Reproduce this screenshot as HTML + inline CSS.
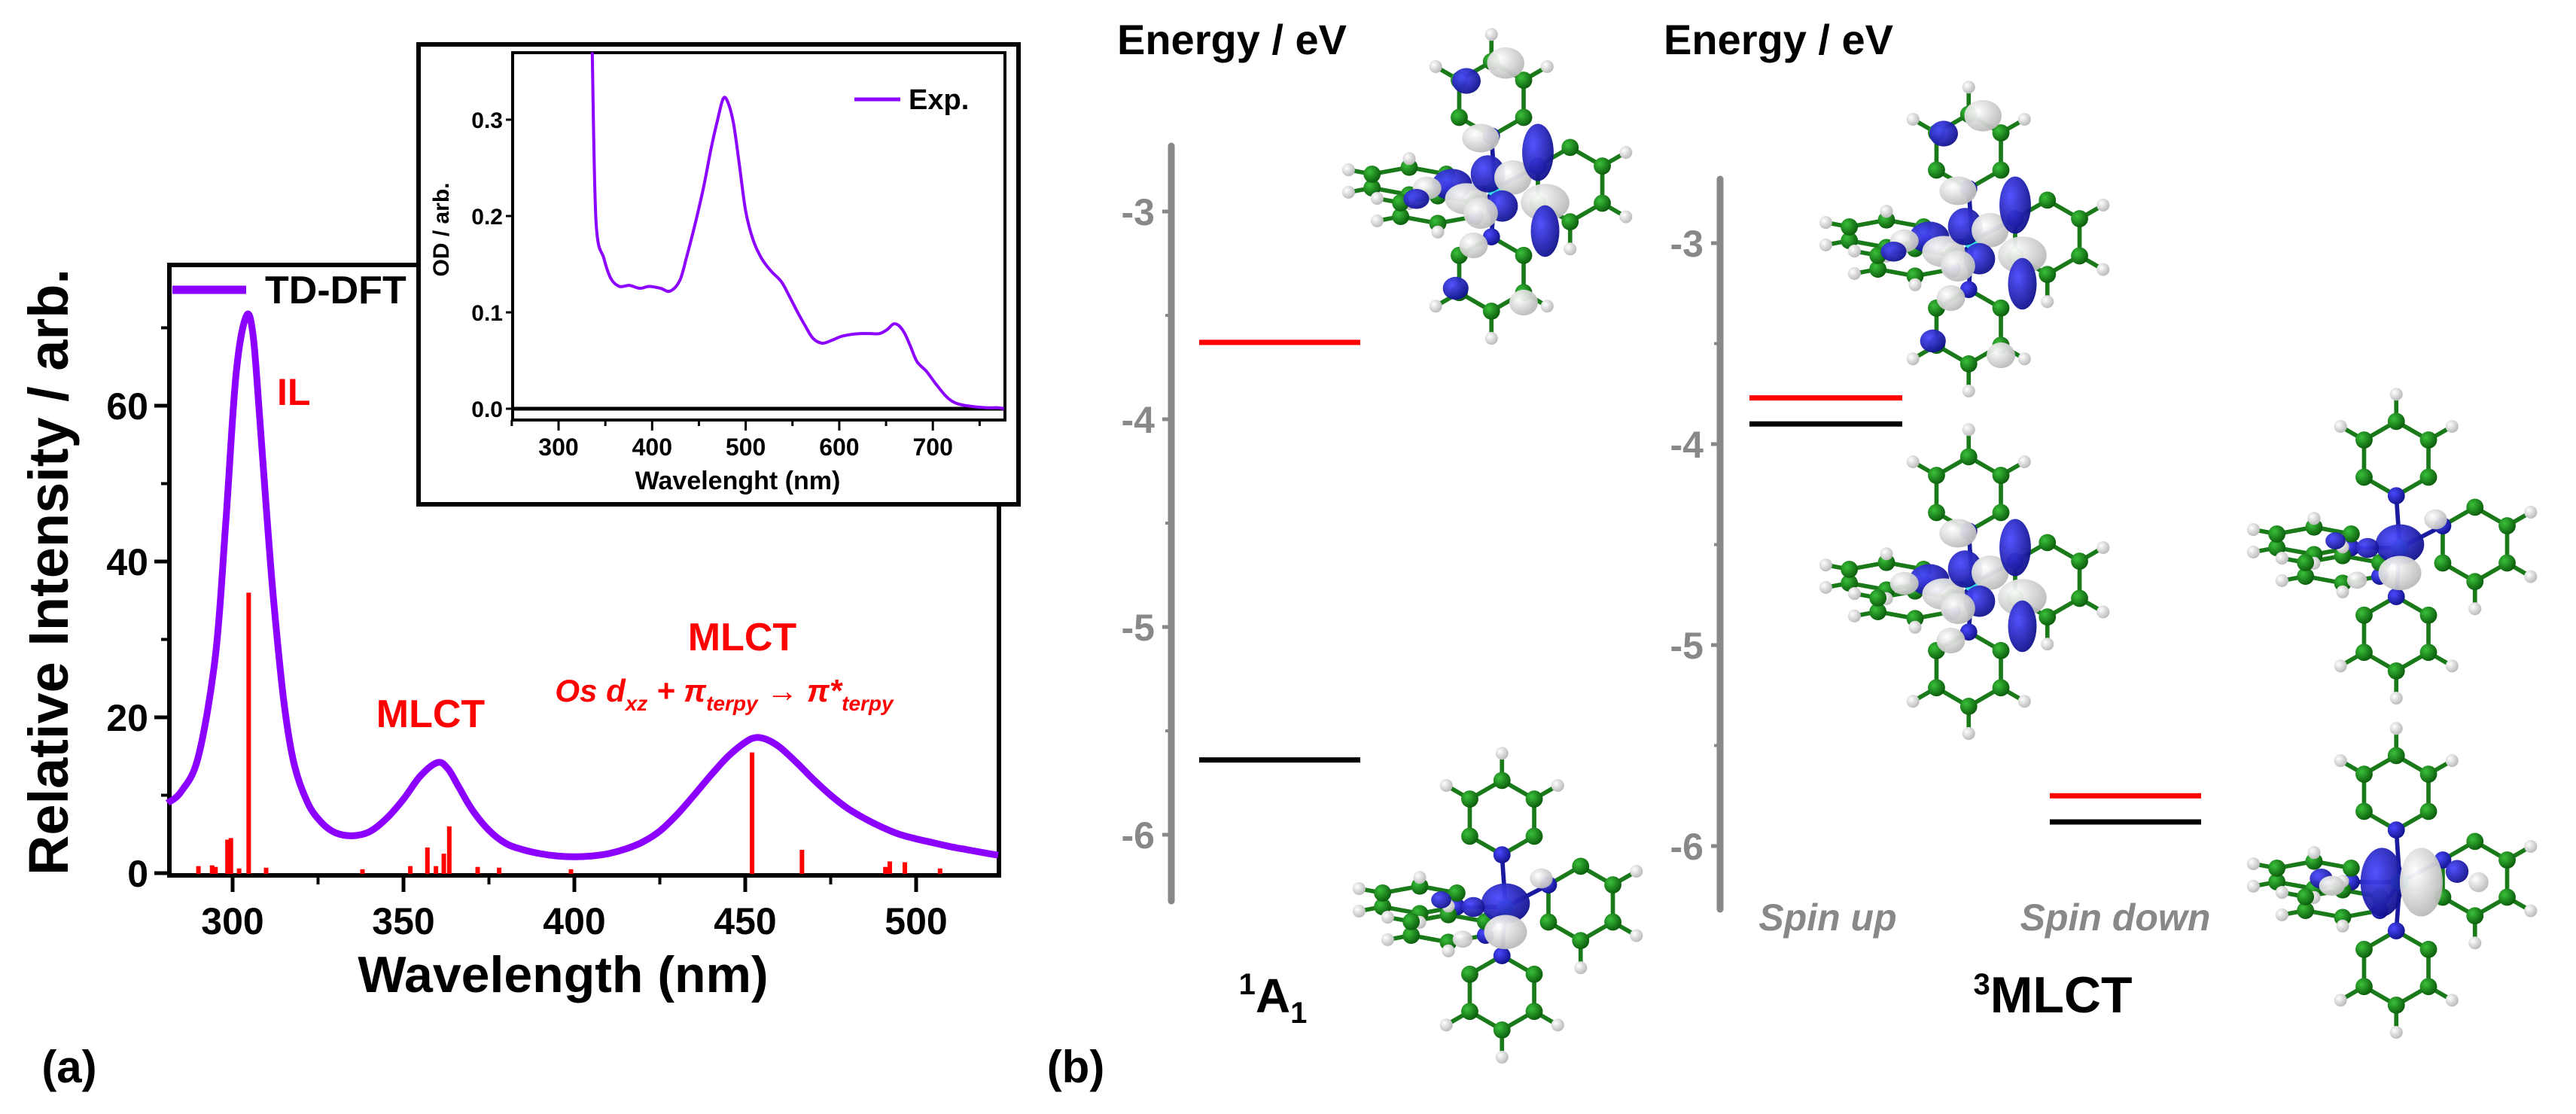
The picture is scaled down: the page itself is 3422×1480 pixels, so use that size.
<!DOCTYPE html>
<html><head><meta charset="utf-8">
<style>
html,body{margin:0;padding:0;background:#fff;}
svg{display:block;}
text{font-family:"Liberation Sans",sans-serif;}
.nar{font-family:"Liberation Sans Narrow","Liberation Sans",sans-serif;font-weight:bold;}
</style></head>
<body>
<svg id="fig" width="3422" height="1480" viewBox="0 0 3422 1480" xmlns="http://www.w3.org/2000/svg">
<defs>
<radialGradient id="gB" cx="35%" cy="35%" r="70%"><stop offset="0" stop-color="#4a4aff"/><stop offset="1" stop-color="#10108a"/></radialGradient>
<radialGradient id="gW" cx="35%" cy="35%" r="70%"><stop offset="0" stop-color="#ffffff"/><stop offset="1" stop-color="#b8b8b8"/></radialGradient>
<radialGradient id="gG" cx="35%" cy="35%" r="70%"><stop offset="0" stop-color="#3ac03a"/><stop offset="1" stop-color="#0a5a0a"/></radialGradient>
</defs>
<g id="pa"></g>
<g id="pb"></g>
</svg>
<script>
// ---------- Panel (a) data ----------
const tdWl  = [281,285,290,295,298,301,304,306,308,310,312,315,318,322,326,330,335,340,345,350,355,360,363,366,370,375,380,385,390,395,400,405,410,415,420,425,430,435,440,445,450,453,456,460,465,470,475,480,485,490,495,500,505,510,515,520,524];
const tdInt = [9,10.5,15,28,45,64,71.5,69,58,46,35,22,14,9,6.5,5.2,4.8,5.3,7,9.5,12.5,14.2,13.4,11.2,8.2,5.5,3.8,3,2.5,2.2,2.1,2.2,2.5,3.1,4,5.4,7.5,10,12.6,15,16.8,17.4,17.2,16.2,14.2,12,10,8.3,7,5.9,5,4.4,3.9,3.4,3,2.6,2.3];
const stickWl = [290,294,295,298.5,299.5,301.9,304.7,309.8,338,352,357,359.5,361.8,363.4,371.7,378,399,452,466.6,491,492.3,496.7,507];
const stickH  = [0.9,1,0.8,4.3,4.5,0.6,36,0.7,0.5,0.9,3.3,0.9,2.5,6,0.8,0.7,0.5,15.5,3,0.8,1.5,1.4,0.6];
const mainXTicks = [300,350,400,450,500];
const mainYTicks = [0,20,40,60];
const expWl  = [336,340,348.5,356,365,375.6,387,397,409,419,429.5,437,446,455,463,470,476,481,487,493,500,508,517,527,538,546,555,563,572,582,592,602,612,623,633,643,651,658,664,670,676,683,693,703,714,722,731,745,758,770,776];
const expOD  = [0.37,0.195,0.156,0.135,0.127,0.128,0.125,0.127,0.125,0.122,0.133,0.158,0.192,0.23,0.27,0.3,0.322,0.318,0.296,0.255,0.205,0.175,0.156,0.143,0.132,0.118,0.101,0.087,0.073,0.068,0.071,0.075,0.077,0.078,0.078,0.078,0.082,0.088,0.086,0.078,0.065,0.049,0.039,0.026,0.013,0.007,0.004,0.002,0.001,0.001,0];
const insetXTicks = [300,400,500,600,700];
const insetYTicks = [0.0,0.1,0.2,0.3];

// ---------- Panel (b) data ----------
const ax1Ticks = [-3,-4,-5,-6];
const ax2Ticks = [-3,-4,-5,-6];
const a1Red = -3.63, a1Black = -5.64;
const upRed = -3.77, upBlack = -3.90;
const downRed = -5.75, downBlack = -5.88;

const NS="http://www.w3.org/2000/svg";
function el(tag, attrs, parent){const e=document.createElementNS(NS,tag);for(const k in attrs)e.setAttribute(k,attrs[k]);(parent||document.getElementById('fig')).appendChild(e);return e;}
function smooth(pts){let d='M'+pts[0][0]+','+pts[0][1];for(let i=0;i<pts.length-1;i++){const p0=pts[i-1]||pts[i],p1=pts[i],p2=pts[i+1],p3=pts[i+2]||p2;const c1x=p1[0]+(p2[0]-p0[0])/6,c1y=p1[1]+(p2[1]-p0[1])/6,c2x=p2[0]-(p3[0]-p1[0])/6,c2y=p2[1]-(p3[1]-p1[1])/6;d+=' C'+c1x+','+c1y+' '+c2x+','+c2y+' '+p2[0]+','+p2[1];}return d;}

const pa=document.getElementById('pa');
const mx=v=>309+(v-300)*(227/50), my=v=>1160-v*(207/20);
const L=225,R=1327,T=352,B=1163;
let e;
e=el('rect',{x:L,y:T,width:R-L,height:B-T,fill:'none',stroke:'#000','stroke-width':6},pa);


mainXTicks.forEach(v=>{
  e=el('line',{x1:mx(v),x2:mx(v),y1:B,y2:B+22,stroke:'#000','stroke-width':5},pa);
  
  
  e=el('text',{x:mx(v),y:B+78,'text-anchor':'middle','font-size':50,class:'nar'},pa);
  e.textContent=v;
  
  
});
for(let v=325;v<=500;v+=50){e=el('line',{x1:mx(v),x2:mx(v),y1:B,y2:B+12,stroke:'#000','stroke-width':4},pa);
  
  }
mainYTicks.forEach(v=>{
  e=el('line',{x1:L-20,x2:L,y1:my(v),y2:my(v),stroke:'#000','stroke-width':5},pa);
  
  
  e=el('text',{x:L-28,y:my(v)+18,'text-anchor':'end','font-size':50,class:'nar'},pa);
  e.textContent=v;
  
  
});
for(let v=10;v<=70;v+=20){e=el('line',{x1:L-11,x2:L,y1:my(v),y2:my(v),stroke:'#000','stroke-width':4},pa);
  
  }
stickWl.forEach((w,i)=>{
  e=el('line',{x1:mx(w),x2:mx(w),y1:B-2,y2:my(stickH[i]),stroke:'#ff0000','stroke-width':6},pa);
  
  
});
e=el('path',{d:smooth(tdWl.map((w,i)=>[mx(w),my(tdInt[i])])),fill:'none',stroke:'#8b00ff','stroke-width':9,'stroke-linejoin':'round'},pa);


e=el('line',{x1:229,x2:327,y1:385,y2:385,stroke:'#8b00ff','stroke-width':11},pa);


e=el('text',{x:352,y:403,'font-size':52,class:'nar'},pa);e.textContent='TD-DFT';


e=el('text',{x:0,y:0,'font-size':74,'font-weight':'bold','text-anchor':'middle',transform:'translate(90,760) rotate(-90)'},pa);e.textContent='Relative Intensity / arb.';


e=el('text',{x:748,y:1318,'font-size':68,class:'nar','text-anchor':'middle'},pa);e.textContent='Wavelength (nm)';


e=el('text',{x:368,y:538,'font-size':50,class:'nar',fill:'#ff0000'},pa);e.textContent='IL';


e=el('text',{x:572,y:966,'font-size':52,class:'nar',fill:'#ff0000','text-anchor':'middle'},pa);e.textContent='MLCT';


e=el('text',{x:986,y:864,'font-size':52,class:'nar',fill:'#ff0000','text-anchor':'middle'},pa);e.textContent='MLCT';


e=el('text',{x:962,y:932,'font-size':42,class:'nar',fill:'#ff0000','text-anchor':'middle','font-style':'italic'},pa);
e.innerHTML='Os d<tspan font-size="28" dy="12">xz</tspan><tspan dy="-12"> + π</tspan><tspan font-size="28" dy="12">terpy</tspan><tspan dy="-12"> → π*</tspan><tspan font-size="28" dy="12">terpy</tspan>';


e=el('text',{x:92,y:1438,'font-size':60,class:'nar','text-anchor':'middle'},pa);e.textContent='(a)';



const ix=v=>742+(v-300)*1.243, iy=v=>543-v*1280;
e=el('rect',{x:556,y:59,width:797,height:611,fill:'#fff',stroke:'#000','stroke-width':6},pa);


e=el('rect',{x:681,y:70,width:654,height:488,fill:'none',stroke:'#000','stroke-width':4},pa);


e=el('line',{x1:681,x2:1335,y1:543,y2:543,stroke:'#000','stroke-width':5},pa);


insetXTicks.forEach(v=>{
  e=el('line',{x1:ix(v),x2:ix(v),y1:558,y2:572,stroke:'#000','stroke-width':3},pa);
  
  
  e=el('text',{x:ix(v),y:605,'font-size':32,class:'nar','text-anchor':'middle'},pa);e.textContent=v;
  
  
});
for(let v=250;v<=750;v+=100){e=el('line',{x1:ix(v),x2:ix(v),y1:558,y2:566,stroke:'#000','stroke-width':3},pa);
  
  }
insetYTicks.forEach(v=>{
  e=el('line',{x1:672,x2:681,y1:iy(v),y2:iy(v),stroke:'#000','stroke-width':3},pa);
  
  
  e=el('text',{x:668,y:iy(v)+11,'font-size':30,class:'nar','text-anchor':'end'},pa);e.textContent=v.toFixed(1);
  
  
});
e=el('text',{x:0,y:0,'font-size':30,'font-weight':'bold','text-anchor':'middle',transform:'translate(596,305) rotate(-90)'},pa);e.textContent='OD / arb.';


e=el('text',{x:980,y:650,'font-size':34,class:'nar','text-anchor':'middle'},pa);e.textContent='Wavelenght (nm)';


e=el('path',{d:'M'+ix(expWl[0])+',70 '+smooth(expWl.map((w,i)=>[ix(w),iy(Math.min(expOD[i],0.37))])).replace(/^M/,'L'),fill:'none',stroke:'#8b00ff','stroke-width':4},pa);


e=el('line',{x1:1135,x2:1196,y1:132,y2:132,stroke:'#8b00ff','stroke-width':5},pa);


e=el('text',{x:1207,y:145,'font-size':38,class:'nar'},pa);e.textContent='Exp.';



// ---------- Panel (b) ----------
const pb=document.getElementById('pb');
const e1=v=>281-(v+3)*276, e2=v=>323-(v+3)*267;
function axis(x,top,bot,ticks,f,name){
  e=el('line',{x1:x,x2:x,y1:top,y2:bot,stroke:'#888','stroke-width':9,'stroke-linecap':'round'},pb);
  
  
  ticks.forEach(v=>{
    e=el('line',{x1:x-12,x2:x,y1:f(v),y2:f(v),stroke:'#888','stroke-width':5},pb);
    
    
    if(f(v-0.5)<bot){
      e=el('line',{x1:x-8,x2:x,y1:f(v-0.5),y2:f(v-0.5),stroke:'#888','stroke-width':4},pb);
      
      
    }
    e=el('text',{x:x-22,y:f(v)+18,'font-size':50,class:'nar',fill:'#888','text-anchor':'end','font-weight':'normal'},pb);e.textContent=v;
    
    
  });
}
axis(1556,194,1197,ax1Ticks,e1,'energy-axis-1a1');
axis(2285,238,1208,ax2Ticks,e2,'energy-axis-3mlct');
function lvl(x1,x2,y,c,n){e=el('line',{x1:x1,x2:x2,y1:y,y2:y,stroke:c,'stroke-width':7},pb);
  
  }
lvl(1593,1807,e1(a1Red),'#ff0000','lumo-level-1a1');
lvl(1593,1807,e1(a1Black),'#000','homo-level-1a1');
lvl(2324,2527,e2(upRed),'#ff0000','spin-up-red-level');
lvl(2324,2527,e2(upBlack),'#000','spin-up-black-level');
lvl(2723,2924,e2(downRed),'#ff0000','spin-down-red-level');
lvl(2723,2924,e2(downBlack),'#000','spin-down-black-level');
[[1484,'energy-title-1'],[2210,'energy-title-2']].forEach(a=>{
  e=el('text',{x:a[0],y:72,'font-size':56,class:'nar'},pb);e.textContent='Energy / eV';
  
  
});
e=el('text',{x:1691,y:1345,'font-size':64,class:'nar','text-anchor':'middle'},pb);
e.innerHTML='<tspan font-size="40" dy="-24">1</tspan><tspan dy="24">A</tspan><tspan font-size="40" dy="14">1</tspan>';


e=el('text',{x:2727,y:1345,'font-size':68,class:'nar','text-anchor':'middle'},pb);
e.innerHTML='<tspan font-size="40" dy="-24">3</tspan><tspan dy="24">MLCT</tspan>';


e=el('text',{x:2428,y:1236,'font-size':50,class:'nar','text-anchor':'middle',fill:'#888','font-style':'italic'},pb);e.textContent='Spin up';


e=el('text',{x:2810,y:1236,'font-size':50,class:'nar','text-anchor':'middle',fill:'#888','font-style':'italic'},pb);e.textContent='Spin down';


e=el('text',{x:1429,y:1438,'font-size':60,class:'nar','text-anchor':'middle'},pb);e.textContent='(b)';



function molecule(cx,cy,s,lobes,name){
  const g=el('g',{transform:`translate(${cx},${cy}) scale(${s})`},pb);
  
  
  const atoms=[],bonds=[];
  function ring(rx,ry,r,sy,nIdx,hSkip){
    const idx=[];
    for(let k=0;k<6;k++){const a=Math.PI/6+k*Math.PI/3;atoms.push([rx+r*Math.cos(a),ry+r*Math.sin(a)*sy,k===nIdx?'N':'C']);idx.push(atoms.length-1);}
    for(let k=0;k<6;k++)bonds.push([idx[k],idx[(k+1)%6]]);
    for(let k=0;k<6;k++){if(hSkip.includes(k))continue;const a=Math.PI/6+k*Math.PI/3;atoms.push([rx+(r+38)*Math.cos(a),ry+(r+38)*Math.sin(a)*sy,'H']);bonds.push([idx[k],atoms.length-1]);}
    return idx;
  }
  atoms.push([0,0,'Os']);
  const t=ring(-5,-125,52,1,1,[1,0,2]);
  const r=ring(105,-5,52,1,3,[3,2,4]);
  const b=ring(-5,120,52,1,4,[4,5,3]);
  const l1=ring(-120,-10,60,0.32,0,[0,5]);
  const l2=ring(-80,30,60,0.32,0,[0,5]);
  bonds.push([0,t[1]],[0,r[3]],[0,b[4]],[0,l1[0]],[0,l2[0]]);
  bonds.forEach(([i,j])=>{const A=atoms[i],B2=atoms[j];
    el('line',{x1:A[0],y1:A[1],x2:B2[0],y2:B2[1],stroke:(i===0||j===0)?'#1a1aa0':'#1a7a1a','stroke-width':6},g);});
  atoms.forEach(a=>{
    const col=a[2]==='H'?'url(#gW)':a[2]==='N'?'url(#gB)':a[2]==='Os'?'#30e0e0':'url(#gG)';
    el('circle',{cx:a[0],cy:a[1],r:a[2]==='H'?9:12,fill:col},g);
  });
  lobes.forEach(o=>el('ellipse',{cx:o[0],cy:o[1],rx:o[2],ry:o[3],fill:o[4]?'url(#gB)':'url(#gW)',opacity:0.95},g));
}
const lobesPi=[[-60,-5,28,22,1],[-40,15,30,22,0],[-10,-20,24,26,1],[25,-15,26,24,0],[10,25,22,22,1],[-20,35,24,22,0],[60,-50,22,40,1],[70,20,34,26,0],[70,60,20,36,1],[-20,-70,26,20,0],[-30,80,20,18,0],[-95,0,20,16,0],[-110,15,18,14,1],[15,-175,26,22,0],[-40,-150,20,18,1],[-55,140,18,16,1],[40,160,20,18,0]];
const lobesD=[[0,-5,34,28,1],[0,35,30,24,0],[-45,0,16,14,1],[-60,45,14,12,0],[-90,-10,14,12,1],[50,-40,16,14,0]];
const lobesDz=[[-25,0,30,48,1],[30,0,30,48,0],[-110,-5,16,14,1],[-95,5,18,14,0],[80,-15,16,16,1],[110,0,14,14,0]];
molecule(1986,250,0.95,lobesPi,'molecule-1a1-lumo');
molecule(2000,1205,0.95,lobesD,'molecule-1a1-homo');
molecule(2620,320,0.95,lobesPi,'molecule-spin-up-upper');
molecule(2620,775,0.95,lobesPi.slice(0,12),'molecule-spin-up-lower');
molecule(3188,728,0.95,lobesD,'molecule-spin-down-upper');
molecule(3188,1172,0.95,lobesDz,'molecule-spin-down-lower');
</script>
</body></html>
